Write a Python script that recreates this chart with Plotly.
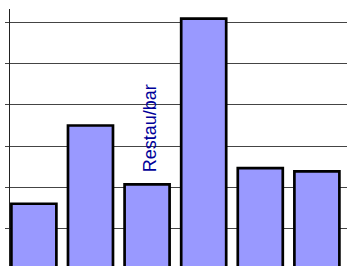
import plotly.graph_objects as go

categories = ["Cat A", "Cat B", "Restau/bar", "Cat D", "Cat E", "Cat F"]
values = [16.1, 35.0, 20.8, 60.8, 24.7, 23.9]
label_category = "Restau/bar"
label_text = "Restau/bar"

fig = go.Figure()
fig.add_trace(go.Bar(
    x=categories,
    y=values,
    marker=dict(color="#9999FF", line=dict(color="#000000", width=2.7)),
    width=0.795,
    showlegend=False,
    hoverinfo="skip",
))

label_value = values[categories.index(label_category)]
fig.add_annotation(
    x=label_category, y=label_value,
    text=label_text, textangle=-90,
    xanchor="center", yanchor="bottom",
    xshift=3, yshift=10,
    showarrow=False,
    font=dict(family="Liberation Sans, Arial, sans-serif", size=18, color="#000099"),
)

fig.update_layout(
    width=347, height=266,
    margin=dict(l=10, r=0, t=9, b=0),
    paper_bgcolor="white", plot_bgcolor="white",
    xaxis=dict(range=[-0.422, 5.532], showticklabels=False, showgrid=False,
               zeroline=False, showline=False, ticks=""),
    yaxis=dict(range=[1.06, 63.14], dtick=10, tick0=0,
               showticklabels=False, showgrid=True, gridcolor="#444444", gridwidth=1,
               zeroline=False, showline=True, linecolor="#222222", linewidth=1,
               ticks="outside", ticklen=4, tickcolor="#444444", tickwidth=1),
)

# remove the browser's default 8px body margin so the figure fills the window
fig.write_html(
    "out.html",
    config={"displayModeBar": False, "staticPlot": True},
    post_script="document.body.style.margin='0px';document.body.style.overflow='hidden';",
)
